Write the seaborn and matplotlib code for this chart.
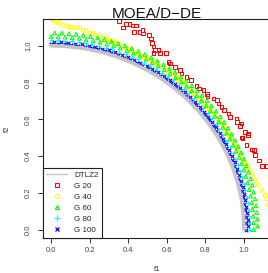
import matplotlib
matplotlib.use("Agg")
import matplotlib.pyplot as plt
from matplotlib.lines import Line2D
import seaborn as sns

# ---------------- data ----------------
title = "MOEA/D\u2212DE"
x_label = "f1"
y_label = "f2"
tick_values = [0.0, 0.2, 0.4, 0.6, 0.8, 1.0]
tick_labels = ["0.0", "0.2", "0.4", "0.6", "0.8", "1.0"]
legend_labels = ["DTLZ2", "G 20", "G 40", "G 60", "G 80", "G 100"]

dtlz2_f1 = [1.000, 0.996, 0.985, 0.966, 0.940, 0.906, 0.866, 0.819, 0.766, 0.707,
            0.643, 0.574, 0.500, 0.423, 0.342, 0.259, 0.174, 0.087, 0.000]
dtlz2_f2 = [0.000, 0.087, 0.174, 0.259, 0.342, 0.423, 0.500, 0.574, 0.643, 0.707,
            0.766, 0.819, 0.866, 0.906, 0.940, 0.966, 0.985, 0.996, 1.000]

g20_f1 = [0.352, 0.372, 0.389, 0.406, 0.423, 0.440, 0.430, 0.458, 0.475, 0.478,
          0.508, 0.518, 0.522, 0.530, 0.539, 0.530, 0.556, 0.565, 0.596, 0.608,
          0.617, 0.642, 0.668, 0.677, 0.703, 0.724, 0.755, 0.768, 0.789, 0.807,
          0.810, 0.841, 0.859, 0.867, 0.884, 0.896, 0.919, 0.927, 0.962, 0.965,
          0.979, 0.988, 1.005, 1.022, 0.993, 0.988, 1.022, 1.014, 1.040, 1.052,
          1.057, 1.079, 1.092, 1.118]
g20_f2 = [1.136, 1.100, 1.118, 1.118, 1.111, 1.111, 1.076, 1.076, 1.086, 1.068,
          1.058, 1.040, 1.016, 0.995, 0.977, 0.962, 0.977, 0.962, 0.962, 0.913,
          0.904, 0.886, 0.868, 0.850, 0.831, 0.813, 0.780, 0.768, 0.759, 0.737,
          0.726, 0.714, 0.705, 0.686, 0.668, 0.650, 0.632, 0.613, 0.605, 0.586,
          0.563, 0.577, 0.532, 0.523, 0.499, 0.501, 0.514, 0.459, 0.437, 0.432,
          0.405, 0.377, 0.346, 0.346]

g40_f1 = [0.005, 0.012, 0.025, 0.038, 0.045, 0.060, 0.081, 0.095, 0.107, 0.131,
          0.150, 0.166, 0.183, 0.202, 0.218, 0.237, 0.255, 0.271, 0.287, 0.306,
          0.321, 0.340, 0.358, 0.375, 0.392, 0.409, 0.427, 0.444, 0.461, 0.478,
          0.496, 0.513, 0.530, 0.548, 0.565, 0.582, 0.600, 0.617, 0.634, 0.651,
          0.668, 0.685, 0.703, 0.729, 0.746, 0.763, 0.781, 0.798, 0.815, 0.833,
          0.841, 0.859, 0.872, 0.893, 0.902, 0.910, 0.919, 0.936, 0.945, 0.953,
          0.965, 0.976, 0.988, 1.005, 1.022, 1.031, 1.040, 1.057, 1.074, 1.092,
          1.109, 1.117, 1.126, 1.135,
          0.290, 0.330, 0.400, 0.470, 0.540, 0.610, 0.660, 0.690, 0.715, 0.740,
          0.770, 0.805, 0.825, 0.850, 0.880, 0.925, 0.960, 0.995, 1.012, 1.048]
g40_f2 = [1.145, 1.140, 1.135, 1.122, 1.127, 1.115, 1.107, 1.102, 1.100, 1.098,
          1.100, 1.085, 1.080, 1.068, 1.068, 1.058, 1.050, 1.040, 1.044, 1.027,
          1.029, 1.013, 1.005, 0.995, 0.987, 0.977, 0.968, 0.959, 0.950, 0.940,
          0.932, 0.922, 0.912, 0.904, 0.890, 0.877, 0.868, 0.858, 0.845, 0.831,
          0.818, 0.804, 0.768, 0.749, 0.731, 0.714, 0.704, 0.686, 0.659, 0.641,
          0.623, 0.605, 0.595, 0.568, 0.550, 0.532, 0.514, 0.496, 0.477, 0.459,
          0.437, 0.414, 0.405, 0.368, 0.341, 0.323, 0.305, 0.269, 0.242, 0.214,
          0.187, 0.169, 0.132, 0.110,
          1.033, 1.018, 0.984, 0.944, 0.898, 0.850, 0.812, 0.790, 0.762, 0.740,
          0.712, 0.676, 0.650, 0.616, 0.580, 0.505, 0.445, 0.380, 0.352, 0.285]

g60_f1 = [1.050, 1.070, 1.049, 1.069, 1.047, 1.066, 1.044, 1.062, 1.040, 1.057,
          1.034, 1.050, 1.027, 1.043, 1.019, 1.034, 1.009, 1.023, 0.999, 1.012,
          0.987, 0.999, 0.974, 0.985, 0.959, 0.970, 0.944, 0.953, 0.927, 0.936,
          0.909, 0.917, 0.890, 0.897, 0.870, 0.877, 0.849, 0.855, 0.827, 0.831,
          0.804, 0.808, 0.780, 0.783, 0.755, 0.757, 0.729, 0.730, 0.703, 0.702,
          0.675, 0.673, 0.646, 0.644, 0.617, 0.614, 0.587, 0.583, 0.556, 0.551,
          0.525, 0.519, 0.493, 0.486, 0.460, 0.452, 0.427, 0.418, 0.393, 0.383,
          0.359, 0.348, 0.324, 0.313, 0.289, 0.277, 0.254, 0.241, 0.218, 0.204,
          0.182, 0.167, 0.146, 0.130, 0.110, 0.093, 0.073, 0.056, 0.037, 0.019,
          0.000]
g60_f2 = [0.000, 0.019, 0.037, 0.056, 0.073, 0.093, 0.110, 0.130, 0.146, 0.167,
          0.182, 0.204, 0.218, 0.241, 0.254, 0.277, 0.289, 0.313, 0.324, 0.348,
          0.359, 0.383, 0.393, 0.418, 0.427, 0.452, 0.460, 0.486, 0.493, 0.519,
          0.525, 0.551, 0.556, 0.583, 0.587, 0.614, 0.617, 0.644, 0.646, 0.673,
          0.675, 0.702, 0.703, 0.730, 0.729, 0.757, 0.755, 0.783, 0.780, 0.808,
          0.804, 0.831, 0.827, 0.855, 0.849, 0.877, 0.870, 0.897, 0.890, 0.917,
          0.909, 0.936, 0.927, 0.953, 0.944, 0.970, 0.959, 0.985, 0.974, 0.999,
          0.987, 1.012, 0.999, 1.023, 1.009, 1.034, 1.019, 1.043, 1.027, 1.050,
          1.034, 1.057, 1.040, 1.062, 1.044, 1.066, 1.047, 1.069, 1.049, 1.070,
          1.050]

g80_f1 = [1.030, 1.029, 1.028, 1.024, 1.020, 1.014, 1.007, 0.999, 0.990, 0.980,
          0.968, 0.955, 0.941, 0.926, 0.909, 0.892, 0.873, 0.854, 0.833, 0.812,
          0.789, 0.765, 0.741, 0.716, 0.689, 0.662, 0.634, 0.605, 0.576, 0.546,
          0.515, 0.484, 0.452, 0.419, 0.386, 0.352, 0.318, 0.284, 0.249, 0.214,
          0.179, 0.143, 0.108, 0.072, 0.036, 0.000]
g80_f2 = [0.000, 0.036, 0.072, 0.108, 0.143, 0.179, 0.214, 0.249, 0.284, 0.318,
          0.352, 0.386, 0.419, 0.452, 0.484, 0.515, 0.546, 0.576, 0.605, 0.634,
          0.662, 0.689, 0.716, 0.741, 0.765, 0.789, 0.812, 0.833, 0.854, 0.873,
          0.892, 0.909, 0.926, 0.941, 0.955, 0.968, 0.980, 0.990, 0.999, 1.007,
          1.014, 1.020, 1.024, 1.028, 1.029, 1.030]

g100_f1 = [1.010, 1.020, 1.009, 1.019, 1.008, 1.016, 1.004, 1.012, 1.000, 1.007,
           0.995, 1.001, 0.988, 0.994, 0.980, 0.985, 0.971, 0.975, 0.961, 0.964,
           0.949, 0.952, 0.936, 0.939, 0.923, 0.924, 0.908, 0.909, 0.892, 0.892,
           0.875, 0.874, 0.856, 0.855, 0.837, 0.836, 0.817, 0.815, 0.796, 0.793,
           0.774, 0.770, 0.751, 0.746, 0.726, 0.721, 0.702, 0.696, 0.676, 0.669,
           0.649, 0.642, 0.622, 0.614, 0.594, 0.585, 0.565, 0.556, 0.535, 0.525,
           0.505, 0.495, 0.474, 0.463, 0.443, 0.431, 0.411, 0.399, 0.378, 0.366,
           0.345, 0.332, 0.312, 0.298, 0.278, 0.264, 0.244, 0.230, 0.210, 0.195,
           0.175, 0.160, 0.141, 0.124, 0.106, 0.089, 0.070, 0.053, 0.035, 0.018,
           0.000]
g100_f2 = [0.000, 0.018, 0.035, 0.053, 0.070, 0.089, 0.106, 0.124, 0.141, 0.160,
           0.175, 0.195, 0.210, 0.230, 0.244, 0.264, 0.278, 0.298, 0.312, 0.332,
           0.345, 0.366, 0.378, 0.399, 0.411, 0.431, 0.443, 0.463, 0.474, 0.495,
           0.505, 0.525, 0.535, 0.556, 0.565, 0.585, 0.594, 0.614, 0.622, 0.642,
           0.649, 0.669, 0.676, 0.696, 0.702, 0.721, 0.726, 0.746, 0.751, 0.770,
           0.774, 0.793, 0.796, 0.815, 0.817, 0.836, 0.837, 0.855, 0.856, 0.874,
           0.875, 0.892, 0.892, 0.909, 0.908, 0.924, 0.923, 0.939, 0.936, 0.952,
           0.949, 0.964, 0.961, 0.975, 0.971, 0.985, 0.980, 0.994, 0.988, 1.001,
           0.995, 1.007, 1.000, 1.012, 1.004, 1.016, 1.008, 1.019, 1.009, 1.020,
           1.010]

# ---------------- style ----------------
sns.set_style("white")
plt.rcParams["font.family"] = ["Liberation Sans", "DejaVu Sans"]

RED, YELLOW, GREEN, CYAN, BLUE, GRAY = "#FF0000", "#FFFF00", "#00FF00", "#00FFFF", "#0000FF", "#C4C4C4"

fig = plt.figure(figsize=(2.68, 2.73), dpi=100)
ax = fig.add_axes([0.1586, 0.1293, 0.8556, 0.8000])

sns.lineplot(x=dtlz2_f1, y=dtlz2_f2, sort=False, estimator=None,
             color=GRAY, linewidth=2.6, ax=ax)

sns.scatterplot(x=g20_f1, y=g20_f2, marker="s", s=6.5, color=RED,
                facecolor="none", edgecolor=RED, linewidth=0.75, ax=ax)
sns.scatterplot(x=g40_f1, y=g40_f2, marker="o", s=7, color=YELLOW,
                facecolor="none", edgecolor=YELLOW, linewidth=0.75, ax=ax)
sns.scatterplot(x=g60_f1, y=g60_f2, marker="^", s=7, color=GREEN,
                facecolor="none", edgecolor=GREEN, linewidth=0.75, ax=ax)
sns.scatterplot(x=g80_f1, y=g80_f2, marker="+", s=10, color=CYAN,
                linewidth=0.8, ax=ax)
sns.scatterplot(x=g100_f1, y=g100_f2, marker="x", s=6.5, color=BLUE,
                linewidth=0.8, ax=ax)

ax.set_xlim(-0.044, 1.144)
ax.set_ylim(-0.044, 1.144)
ax.set_xticks(tick_values)
ax.set_xticklabels(tick_labels)
ax.set_yticks(tick_values)
ax.set_yticklabels(tick_labels, rotation=90, va="center")

for side in ["left", "bottom", "top", "right"]:
    ax.spines[side].set_color("#222222")
    ax.spines[side].set_linewidth(0.8)

ax.tick_params(axis="both", direction="out", length=3.5, width=0.7,
               color="#333333", labelsize=5.5, labelcolor="#444444",
               left=True, bottom=True)
ax.tick_params(axis="x", pad=3.5)
ax.tick_params(axis="y", pad=4)

ax.set_title(title, fontsize=11, color="#111111", pad=1)
ax.set_xlabel(x_label, fontsize=5.5, color="#333333")
ax.set_ylabel(y_label, fontsize=5.5, color="#333333", labelpad=10)
ax.xaxis.set_label_coords((157 - 42.5) / 229.3, -0.13)

# legend handles drawn as small scatter markers
handles = [
    Line2D([], [], color=GRAY, linewidth=1.0),
    Line2D([0], [0], linestyle="", marker="s", markersize=3.0,
           mfc="none", mec=RED, mew=0.8),
    Line2D([0], [0], linestyle="", marker="o", markersize=3.0,
           mfc="none", mec=YELLOW, mew=0.8),
    Line2D([0], [0], linestyle="", marker="^", markersize=3.0,
           mfc="none", mec=GREEN, mew=0.8),
    Line2D([0], [0], linestyle="", marker="+", markersize=3.8,
           mec=CYAN, mew=0.9),
    Line2D([0], [0], linestyle="", marker="x", markersize=2.8,
           mec=BLUE, mew=0.9),
]
leg = ax.legend(handles=handles, labels=legend_labels, loc="lower left",
                bbox_to_anchor=(0, 0), borderaxespad=0, fontsize=5.8,
                frameon=True, fancybox=False, edgecolor="#222222",
                framealpha=1, handlelength=2.6, handletextpad=0.9,
                labelspacing=0.42, borderpad=0.45)
leg.get_frame().set_linewidth(0.8)
for t in leg.get_texts():
    t.set_color("#222222")

fig.savefig("out.png", dpi=100)
